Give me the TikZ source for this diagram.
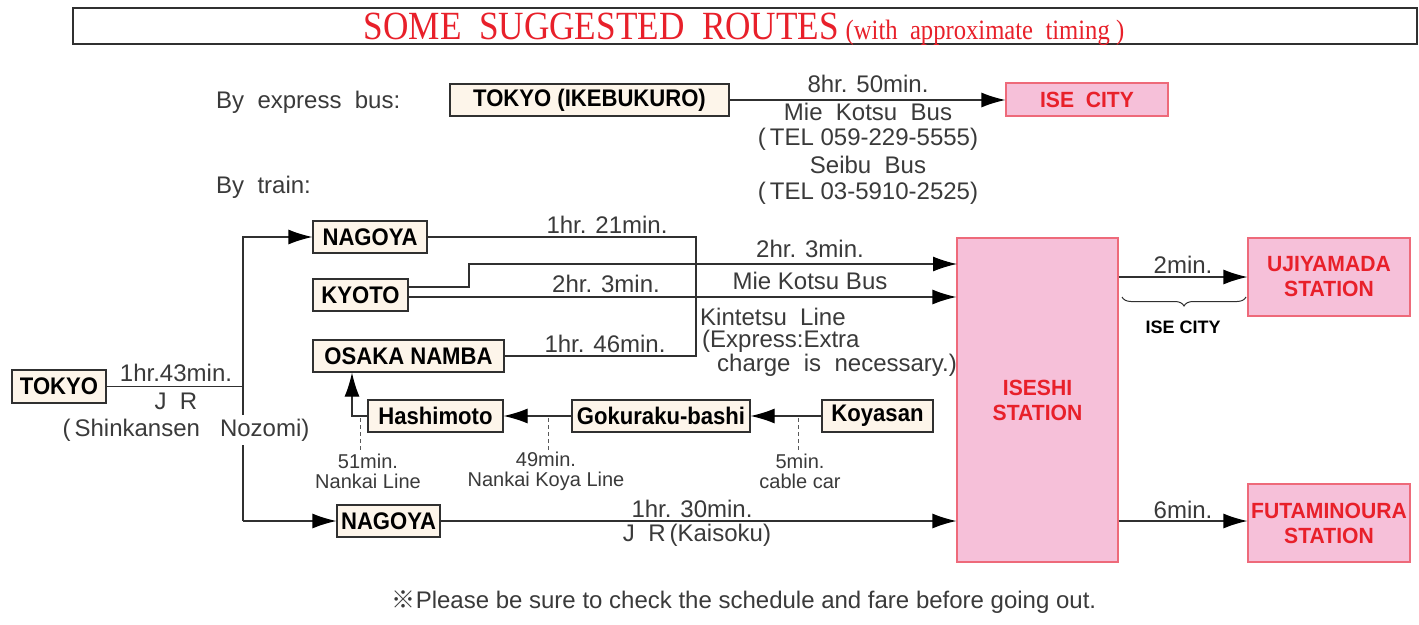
\documentclass[tikz,border=0pt]{standalone}
\usepackage{fontspec}
\setmainfont{Liberation Sans}
\newfontfamily\titlefont{Liberation Serif}[FakeStretch=0.88]
\newfontfamily\boxfont{Liberation Sans}[FakeStretch=0.92]
\newfontfamily\stfont{Liberation Sans}[FakeStretch=0.96]
\newfontfamily\cjk{Noto Sans CJK JP}
\usetikzlibrary{arrows.meta,decorations.pathreplacing}
\definecolor{cream}{HTML}{FDF5EA}
\definecolor{pinkfill}{HTML}{F6C0D9}
\definecolor{pinkline}{HTML}{EE6A7A}
\definecolor{redtxt}{HTML}{E8202A}
\definecolor{linec}{HTML}{303030}
\definecolor{txtc}{HTML}{3A3A3A}
\begin{document}
\begin{tikzpicture}[x=1pt,y=-1pt,
 cbox/.style={draw=linec, fill=cream, line width=1.2pt, minimum height=32pt, inner sep=0pt, font=\boxfont\bfseries\fontsize{24}{26}\selectfont, text=black},
 sbox/.style={draw=pinkline, fill=pinkfill, line width=1.2pt, inner sep=0pt, align=center, font=\stfont\bfseries\fontsize{22}{25}\selectfont, text=redtxt},
 lab/.style={inner sep=0pt, font=\fontsize{24}{26}\selectfont, text=txtc},
 slab/.style={inner sep=0pt, font=\fontsize{20}{20}\selectfont, text=txtc, align=center},
 conn/.style={draw=linec, line width=1.2pt},
 arr/.style={conn, -{Latex[length=24pt,width=15pt,color=black]}},
 tick/.style={draw=linec!80, line width=1pt, dash pattern=on 4pt off 3pt}]
\useasboundingbox (0,0) rectangle (1419,624);
\fill[white] (0,0) rectangle (1419,624);
% title
\node[draw=linec, line width=1.5pt, minimum width=1344pt, minimum height=36pt, inner sep=0pt] (titlebox) at (745,26) {};
\node[inner sep=0pt, text=redtxt] (title) at (744,29) {\titlefont\fontsize{40}{42}\selectfont SOME\ \ SUGGESTED\ \ ROUTES\,{\fontsize{28}{30}\selectfont (with\ \ approximate\ \ timing\ )}};
% bus
\node[lab, anchor=west] (bybus) at (216,102) {By\ \ express\ \ bus:};
\node[cbox, minimum width=279pt] (ike) at (589.5,100) {TOKYO (IKEBUKURO)};
\node[sbox, minimum width=162pt, minimum height=33pt] (isecity) at (1087,99.5) {ISE\ \ CITY};
\draw[arr] (ike.east) -- (ike.east -| isecity.west);
\node[lab] (l1) at (868,84) {8hr. 50min.};
\node[lab] (l2) at (868,112) {Mie\ \ Kotsu\ \ Bus};
\node[lab] (l3) at (868,139) {(\,TEL 059-229-5555)};
\node[lab] (l4) at (868,165) {Seibu\ \ Bus};
\node[lab] (l5) at (868,193) {(\,TEL 03-5910-2525)};
% train
\node[lab, anchor=west] (bytrain) at (216,187) {By\ \ train:};
\node[cbox, minimum width=94pt, minimum height=33pt] (tokyo) at (59,386.5) {TOKYO};
\node[cbox, minimum width=114pt] (nag1) at (370,237) {NAGOYA};
\node[cbox, minimum width=95pt] (kyoto) at (360.5,295) {KYOTO};
\node[cbox, minimum width=191pt] (osaka) at (408.5,356) {OSAKA NAMBA};
\node[cbox, minimum width=135pt] (hashi) at (435.5,416) {Hashimoto};
\node[cbox, minimum width=178pt] (goku) at (661,416) {Gokuraku-bashi};
\node[cbox, minimum width=111pt] (koya) at (877.5,416) {Koyasan};
\node[cbox, minimum width=103pt] (nag2) at (388.5,521) {NAGOYA};
\node[sbox, minimum width=161pt, minimum height=324pt] (iseshi) at (1037.5,400) {ISESHI\\STATION};
\node[sbox, minimum width=162pt, minimum height=78pt] (uji) at (1329,277) {UJIYAMADA\\STATION};
\node[sbox, minimum width=162pt, minimum height=78pt] (futa) at (1329,523) {FUTAMINOURA\\STATION};
% connectors
\coordinate (jb) at (243,521);
\draw[conn] (tokyo.east) -- (tokyo.east -| jb);
\draw[arr] (jb) |- (nag1.west);
\draw[arr] (jb) -- (nag2.west);
\coordinate (kn) at (696,356);
\draw[conn] (nag1.east) -| (kn) -- (osaka.east);
\coordinate (ky1) at (469,287);
\draw[arr] ([yshift=8pt]kyoto.east) -- (ky1) |- (957,264);
\draw[arr] ([yshift=-2pt]kyoto.east) -- ([yshift=-2pt]kyoto.east -| iseshi.west);
\coordinate (hb) at (352,416);
\draw[arr] (hashi.west) -- (hb) -- (hb |- osaka.south);
\draw[arr] (koya.west) -- (goku.east);
\draw[arr] (goku.west) -- (hashi.east);
\draw[arr] (nag2.east) -- (nag2.east -| iseshi.west);
\draw[arr] (iseshi.east |- uji.west) -- (uji.west);
\draw[arr] (iseshi.east |- 0,521) -- (futa.west |- 0,521);
\draw[conn, line width=1pt, decorate, decoration={brace, mirror, amplitude=9pt}] (1122,297) -- (1246,297);
% dashed ticks
\draw[tick] (360,418) -- (360,451);
\draw[tick] (548,418) -- (548,451);
\draw[tick] (798,418) -- (798,451);
% labels
\node[lab] (t1) at (176,373) {1hr.43min.};
\node[lab] (t2) at (176,401) {J\ \ R};
\node[lab, fill=white, inner ysep=4pt] (t3) at (186,430) {(\,Shinkansen\ \ \ Nozomi)};
\node[lab] (t4) at (607,225) {1hr. 21min.};
\node[lab] (t5) at (810,249) {2hr. 3min.};
\node[lab] (t6) at (810,281) {Mie Kotsu Bus};
\node[lab] (t7) at (606,284) {2hr. 3min.};
\node[lab] (t8) at (605,344) {1hr. 46min.};
\node[lab, anchor=west] (k1) at (700,317) {Kintetsu\ \ Line};
\node[lab, anchor=west] (k2) at (702,341) {(Express:Extra};
\node[lab, anchor=west] (k3) at (717,365) {charge\ \ is\ \ necessary.)};
\node[lab] (m2) at (1183,265) {2min.};
\node[inner sep=0pt, font=\bfseries\fontsize{18}{20}\selectfont, text=black] (isec) at (1183,327) {ISE CITY};
\node[lab] (m6) at (1183,510) {6min.};
\node[slab] (s1) at (368,471) {51min.\\Nankai Line};
\node[slab] (s2) at (546,471) {49min.\\Nankai Koya Line};
\node[slab] (s3) at (800,471) {5min.\\cable car};
\node[lab] (j1) at (692,509) {1hr. 30min.};
\node[lab] (j2) at (697,535) {J\ \ R\,(Kaisoku)};
\node[lab] (foot) at (744,602) {{\cjk ※}Please be sure to check the schedule and fare before going out.};
\end{tikzpicture}
\end{document}
